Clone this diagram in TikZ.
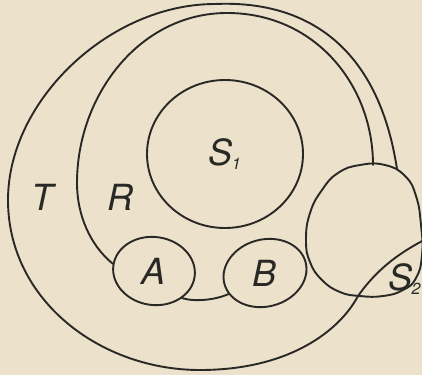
\documentclass[tikz,border=0pt]{standalone}
\usepackage{fontspec}
\setsansfont{TeX Gyre Heros}
\usepackage{xcolor}
\usepackage{tikz}
\usetikzlibrary{shapes.geometric}

\definecolor{paper}{RGB}{236,225,202}
\definecolor{ink}{RGB}{40,40,36}

\begin{document}
\begin{tikzpicture}[
    x=1pt, y=-1pt,
    region/.style={ellipse, draw=ink, line width=1.9pt, inner sep=0pt},
    tag/.style={text=ink, font=\fontsize{36}{36}\selectfont\sffamily\itshape},
    curve/.style={draw=ink, line width=1.9pt, line cap=round, line join=round}
]
    % paper
    \fill [paper] (0,0) rectangle (422,375);
    \useasboundingbox (0,0) rectangle (422,375);

    % Regions
    \node [region, minimum width=156pt, minimum height=148pt] (S1) at (225,154) {};
    \node [region, minimum width=82pt, minimum height=68pt, rotate=-8] (A) at (154,271) {};
    \node [region, minimum width=84pt, minimum height=67pt, rotate=15] (B) at (265,273) {};

    % big region on the right
    \path [curve] plot[smooth cycle, tension=0.8] coordinates {
        (360,165) (385,165) (405,176) (416,196) (421,225) (422,255) (416,278)
        (403,290) (383,296) (360,296) (340,292) (322,280) (310,262) (306,240)
        (310,213) (322,190) (338,173)};
    \coordinate (jT) at (397,169);
    \coordinate (jR) at (373,165);
    \coordinate (jB) at (358,296);
    \coordinate (edge) at (426,239);

    % Paths
    \path [curve] (jT) .. controls (378,45) and (305,0) .. (215,4)
        .. controls (110,4) and (8,100) .. (8,200)
        .. controls (8,300) and (100,370) .. (200,370)
        .. controls (290,370) and (340,330) .. (jB);
    \path [curve] (A.178) .. controls (90,245) and (77,215) .. (77,183)
        .. controls (77,95) and (140,13) .. (227,13)
        .. controls (315,13) and (373,85) .. (jR);
    \path [curve] (A.-36) .. controls (195,302) and (215,300) .. (B.195);
    \path [curve] (edge) .. controls (395,255) and (375,272) .. (jB);

    % Labels
    \node [tag] (tT) at (42,197) {T};
    \node [tag] (tR) at (120,197) {R};
    \node [tag] (tS1) at (S1) {S\kern-1pt\textsubscript{\fontsize{16}{16}\selectfont 1}};
    \node [tag] (tA) at (A) {A};
    \node [tag] (tB) at (B) {B};
    \node [tag, anchor=west] (tS2) at (385,279) {S\kern-1pt\textsubscript{\fontsize{16}{16}\selectfont 2}};
\end{tikzpicture}
\end{document}
